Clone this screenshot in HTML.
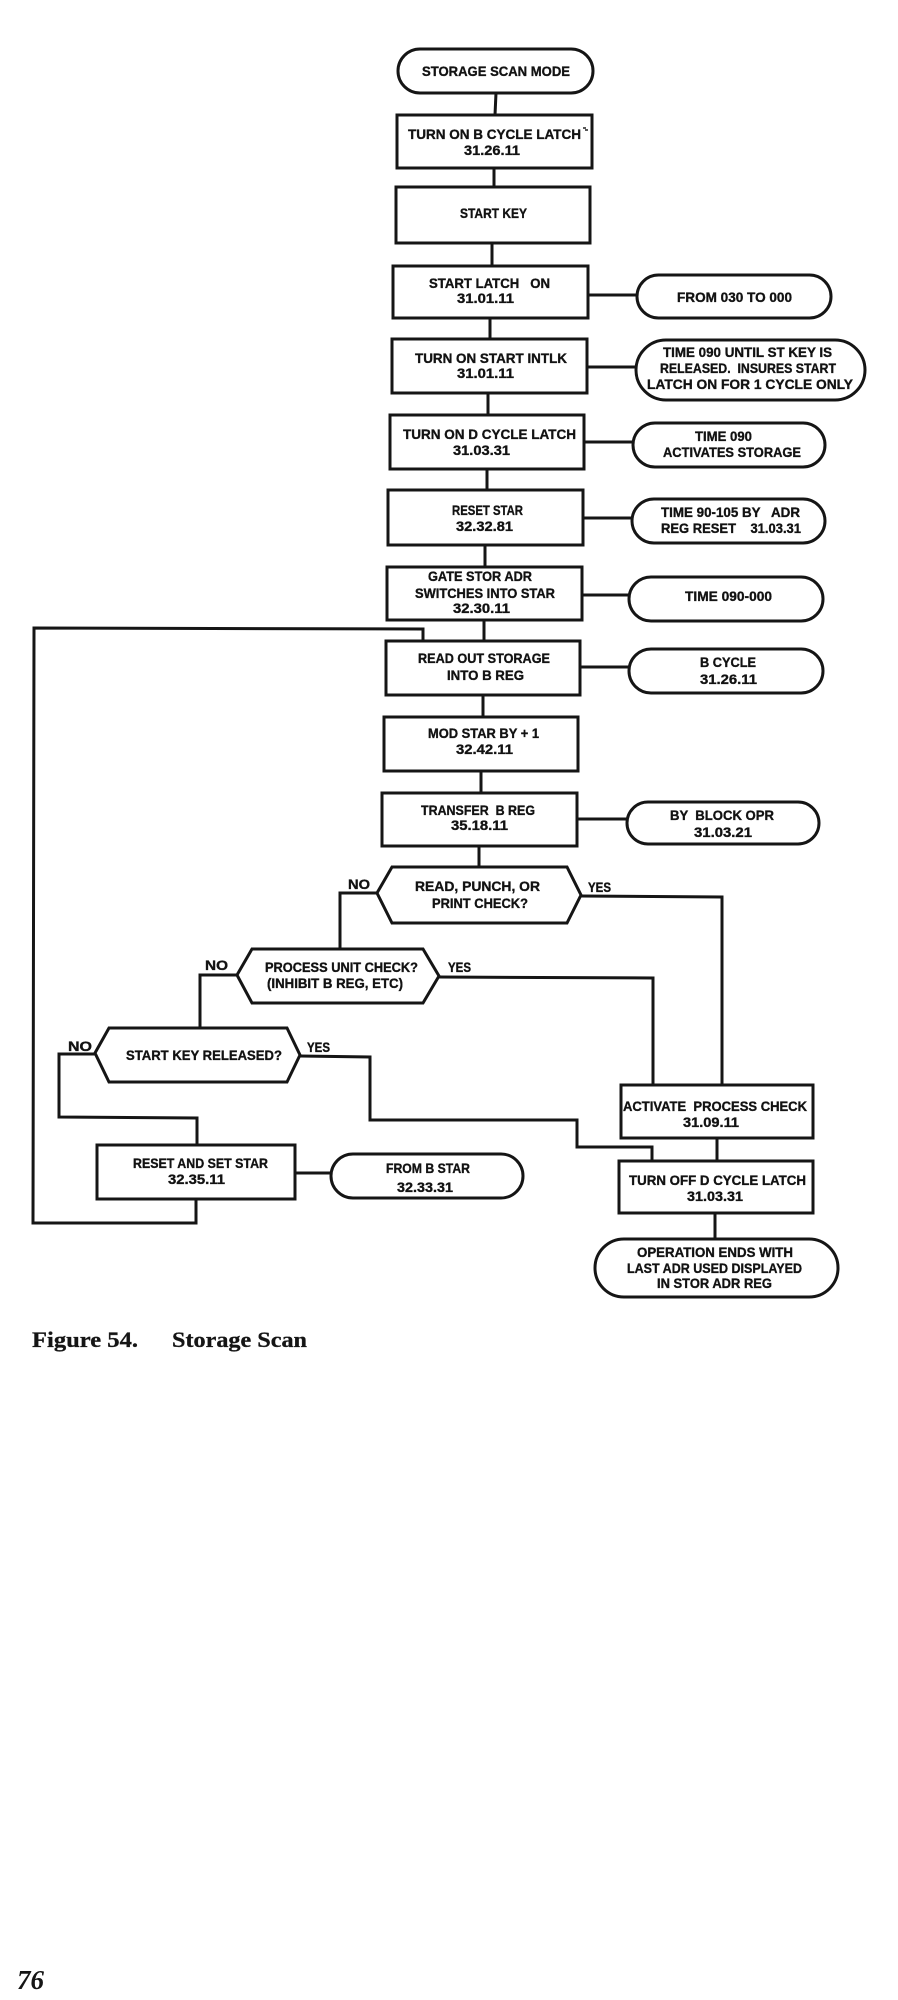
<!DOCTYPE html>
<html>
<head>
<meta charset="utf-8">
<style>
  html, body { margin: 0; padding: 0; background: #ffffff; }
  svg { display: block; }
  .t { font-family: "Liberation Sans", "DejaVu Sans", sans-serif; font-weight: bold; font-size: 14px; fill: #121212; stroke: #121212; stroke-width: 0.35px; }
  .cap { font-family: "Liberation Serif", "DejaVu Serif", serif; font-weight: bold; font-size: 22px; fill: #151515; stroke: #151515; stroke-width: 0.3px; }
  .pg { font-family: "Liberation Serif", "DejaVu Serif", serif; font-weight: bold; font-style: italic; font-size: 27px; fill: #151515; }
</style>
</head>
<body>
<svg width="898" height="2000" viewBox="0 0 898 2000" xmlns="http://www.w3.org/2000/svg">
  <rect x="0" y="0" width="898" height="2000" fill="#ffffff"/>
  <g fill="none" stroke="#151515" stroke-width="3" stroke-linejoin="miter">
    <!-- Terminal / pills -->
    <rect x="398" y="49" width="195" height="44" rx="22" ry="22"/>
    <rect x="637" y="275" width="194" height="43" rx="21.5" ry="21.5"/>
    <rect x="636" y="340" width="229" height="60" rx="30" ry="30"/>
    <rect x="633" y="423" width="192" height="44" rx="22" ry="22"/>
    <rect x="632" y="499" width="193" height="44" rx="22" ry="22"/>
    <rect x="629" y="577" width="194" height="44" rx="22" ry="22"/>
    <rect x="629" y="649" width="194" height="44" rx="22" ry="22"/>
    <rect x="627" y="802" width="192" height="42" rx="21" ry="21"/>
    <rect x="331" y="1154" width="192" height="44" rx="22" ry="22"/>
    <rect x="595" y="1239" width="243" height="58" rx="29" ry="29"/>

    <!-- Process boxes -->
    <rect x="397" y="115" width="195" height="53"/>
    <rect x="396" y="187" width="194" height="56"/>
    <rect x="393" y="266" width="195" height="52"/>
    <rect x="392" y="339" width="195" height="54"/>
    <rect x="390" y="415" width="194" height="54"/>
    <rect x="388" y="490" width="195" height="55"/>
    <rect x="387" y="567" width="195" height="53"/>
    <rect x="386" y="641" width="194" height="54"/>
    <rect x="384" y="717" width="194" height="54"/>
    <rect x="382" y="793" width="195" height="53"/>
    <rect x="621" y="1085" width="192" height="53"/>
    <rect x="619" y="1161" width="194" height="52"/>
    <rect x="97" y="1145" width="198" height="54"/>

    <!-- Decisions -->
    <polygon points="377,893 392,867 567,867 581,895 567,923 392,923"/>
    <polygon points="237,975 252,949 423,949 439,976 423,1003 252,1003"/>
    <polygon points="95,1053 109,1028 287,1028 300,1055 287,1082 109,1082"/>

    <!-- Main column connectors -->
    <line x1="496" y1="93" x2="495" y2="115"/>
    <line x1="494" y1="168" x2="494" y2="187"/>
    <line x1="492" y1="243" x2="492" y2="266"/>
    <line x1="490" y1="318" x2="490" y2="339"/>
    <line x1="488" y1="393" x2="488" y2="415"/>
    <line x1="487" y1="469" x2="487" y2="490"/>
    <line x1="485" y1="545" x2="485" y2="567"/>
    <line x1="484" y1="620" x2="484" y2="641"/>
    <line x1="483" y1="695" x2="483" y2="717"/>
    <line x1="481" y1="771" x2="481" y2="793"/>
    <line x1="479" y1="846" x2="479" y2="867"/>

    <!-- Side connectors -->
    <line x1="588" y1="295" x2="637" y2="295"/>
    <line x1="587" y1="367" x2="636" y2="367"/>
    <line x1="584" y1="442" x2="633" y2="442"/>
    <line x1="583" y1="518" x2="632" y2="518"/>
    <line x1="582" y1="595" x2="629" y2="595"/>
    <line x1="580" y1="667" x2="629" y2="667"/>
    <line x1="577" y1="819" x2="627" y2="819"/>
    <line x1="295" y1="1173" x2="331" y2="1173"/>

    <!-- Loop back -->
    <polyline points="196,1199 196,1223 33,1223 34,628 423,629 423,641"/>

    <!-- Decision 1 -->
    <polyline points="377,893 340,893 340,949"/>
    <polyline points="581,896 722,897 722,1085"/>
    <!-- Decision 2 -->
    <polyline points="439,977 653,978 653,1085"/>
    <polyline points="237,975 200,975 200,1028"/>
    <!-- Decision 3 -->
    <polyline points="95,1054 59,1054 59,1117 197,1118 197,1145"/>
    <polyline points="300,1056 370,1057 370,1120 577,1120 577,1147 652,1147 652,1161"/>

    <!-- Bottom chain -->
    <line x1="717" y1="1138" x2="717" y2="1161"/>
    <line x1="715" y1="1213" x2="715" y2="1239"/>
  </g>

  <!-- small stray mark after LATCH -->
  <path d="M583,128 l3,0 M585,130 l3,0" stroke="#222" stroke-width="1.5" fill="none"/>

  <g class="t">
    <text x="422" y="76" textLength="148" lengthAdjust="spacingAndGlyphs">STORAGE SCAN MODE</text>
    <text x="408" y="139" textLength="173" lengthAdjust="spacingAndGlyphs">TURN ON B CYCLE LATCH</text>
    <text x="464" y="155" textLength="56" lengthAdjust="spacingAndGlyphs">31.26.11</text>
    <text x="460" y="218" textLength="67" lengthAdjust="spacingAndGlyphs">START KEY</text>
    <text x="429" y="288" textLength="121" lengthAdjust="spacingAndGlyphs" xml:space="preserve">START LATCH   ON</text>
    <text x="457" y="303" textLength="57" lengthAdjust="spacingAndGlyphs">31.01.11</text>
    <text x="415" y="363" textLength="152" lengthAdjust="spacingAndGlyphs">TURN ON START INTLK</text>
    <text x="457" y="378" textLength="57" lengthAdjust="spacingAndGlyphs">31.01.11</text>
    <text x="677" y="302" textLength="115" lengthAdjust="spacingAndGlyphs">FROM 030 TO 000</text>
    <text x="663" y="357" textLength="169" lengthAdjust="spacingAndGlyphs">TIME 090 UNTIL ST KEY IS</text>
    <text x="660" y="373" textLength="176" lengthAdjust="spacingAndGlyphs" xml:space="preserve">RELEASED.  INSURES START</text>
    <text x="647" y="389" textLength="206" lengthAdjust="spacingAndGlyphs">LATCH ON FOR 1 CYCLE ONLY</text>
    <text x="403" y="439" textLength="173" lengthAdjust="spacingAndGlyphs">TURN ON D CYCLE LATCH</text>
    <text x="453" y="455" textLength="57" lengthAdjust="spacingAndGlyphs">31.03.31</text>
    <text x="695" y="441" textLength="57" lengthAdjust="spacingAndGlyphs">TIME 090</text>
    <text x="663" y="457" textLength="138" lengthAdjust="spacingAndGlyphs">ACTIVATES STORAGE</text>
    <text x="452" y="515" textLength="71" lengthAdjust="spacingAndGlyphs">RESET STAR</text>
    <text x="456" y="531" textLength="57" lengthAdjust="spacingAndGlyphs">32.32.81</text>
    <text x="661" y="517" textLength="139" lengthAdjust="spacingAndGlyphs" xml:space="preserve">TIME 90-105 BY   ADR</text>
    <text x="661" y="533" textLength="140" lengthAdjust="spacingAndGlyphs" xml:space="preserve">REG RESET    31.03.31</text>
    <text x="428" y="581" textLength="104" lengthAdjust="spacingAndGlyphs">GATE STOR ADR</text>
    <text x="415" y="598" textLength="140" lengthAdjust="spacingAndGlyphs">SWITCHES INTO STAR</text>
    <text x="453" y="613" textLength="57" lengthAdjust="spacingAndGlyphs">32.30.11</text>
    <text x="685" y="601" textLength="87" lengthAdjust="spacingAndGlyphs">TIME 090-000</text>
    <text x="418" y="663" textLength="132" lengthAdjust="spacingAndGlyphs">READ OUT STORAGE</text>
    <text x="447" y="680" textLength="77" lengthAdjust="spacingAndGlyphs">INTO B REG</text>
    <text x="700" y="667" textLength="56" lengthAdjust="spacingAndGlyphs">B CYCLE</text>
    <text x="700" y="684" textLength="57" lengthAdjust="spacingAndGlyphs">31.26.11</text>
    <text x="428" y="738" textLength="111" lengthAdjust="spacingAndGlyphs">MOD STAR BY + 1</text>
    <text x="456" y="754" textLength="57" lengthAdjust="spacingAndGlyphs">32.42.11</text>
    <text x="421" y="815" textLength="114" lengthAdjust="spacingAndGlyphs" xml:space="preserve">TRANSFER  B REG</text>
    <text x="451" y="830" textLength="57" lengthAdjust="spacingAndGlyphs">35.18.11</text>
    <text x="670" y="820" textLength="104" lengthAdjust="spacingAndGlyphs" xml:space="preserve">BY  BLOCK OPR</text>
    <text x="694" y="837" textLength="58" lengthAdjust="spacingAndGlyphs">31.03.21</text>
    <text x="415" y="891" textLength="125" lengthAdjust="spacingAndGlyphs">READ, PUNCH, OR</text>
    <text x="432" y="908" textLength="96" lengthAdjust="spacingAndGlyphs">PRINT CHECK?</text>
    <text x="348" y="889" textLength="22" lengthAdjust="spacingAndGlyphs">NO</text>
    <text x="588" y="892" textLength="23" lengthAdjust="spacingAndGlyphs">YES</text>
    <text x="265" y="972" textLength="153" lengthAdjust="spacingAndGlyphs">PROCESS UNIT CHECK?</text>
    <text x="267" y="988" textLength="136" lengthAdjust="spacingAndGlyphs">(INHIBIT B REG, ETC)</text>
    <text x="205" y="970" textLength="23" lengthAdjust="spacingAndGlyphs">NO</text>
    <text x="448" y="972" textLength="23" lengthAdjust="spacingAndGlyphs">YES</text>
    <text x="126" y="1060" textLength="156" lengthAdjust="spacingAndGlyphs">START KEY RELEASED?</text>
    <text x="68" y="1051" textLength="24" lengthAdjust="spacingAndGlyphs">NO</text>
    <text x="307" y="1052" textLength="23" lengthAdjust="spacingAndGlyphs">YES</text>
    <text x="623" y="1111" textLength="184" lengthAdjust="spacingAndGlyphs" xml:space="preserve">ACTIVATE  PROCESS CHECK</text>
    <text x="683" y="1127" textLength="56" lengthAdjust="spacingAndGlyphs">31.09.11</text>
    <text x="629" y="1185" textLength="177" lengthAdjust="spacingAndGlyphs">TURN OFF D CYCLE LATCH</text>
    <text x="687" y="1201" textLength="56" lengthAdjust="spacingAndGlyphs">31.03.31</text>
    <text x="133" y="1168" textLength="135" lengthAdjust="spacingAndGlyphs">RESET AND SET STAR</text>
    <text x="168" y="1184" textLength="57" lengthAdjust="spacingAndGlyphs">32.35.11</text>
    <text x="386" y="1173" textLength="84" lengthAdjust="spacingAndGlyphs">FROM B STAR</text>
    <text x="397" y="1192" textLength="56" lengthAdjust="spacingAndGlyphs">32.33.31</text>
    <text x="637" y="1257" textLength="156" lengthAdjust="spacingAndGlyphs">OPERATION ENDS WITH</text>
    <text x="627" y="1273" textLength="175" lengthAdjust="spacingAndGlyphs">LAST ADR USED DISPLAYED</text>
    <text x="657" y="1288" textLength="115" lengthAdjust="spacingAndGlyphs">IN STOR ADR REG</text>
  </g>

  <text class="cap" x="32" y="1347" textLength="106" lengthAdjust="spacingAndGlyphs">Figure 54.</text>
  <text class="cap" x="172" y="1347" textLength="135" lengthAdjust="spacingAndGlyphs">Storage Scan</text>
  <text class="pg" x="17" y="1989" textLength="27" lengthAdjust="spacingAndGlyphs">76</text>
</svg>
</body>
</html>
